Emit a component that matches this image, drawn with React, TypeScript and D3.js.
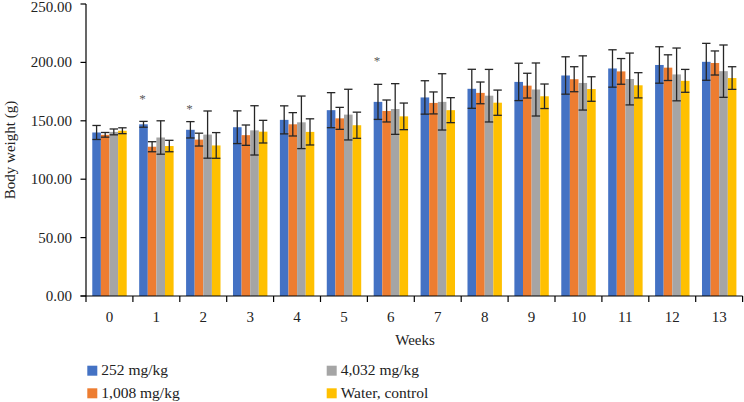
import React from "react";
import * as d3 from "d3";

const weeks = ["0", "1", "2", "3", "4", "5", "6", "7", "8", "9", "10", "11", "12", "13"];
const seriesNames = ["252 mg/kg", "1,008 mg/kg", "4,032 mg/kg", "Water, control"];
const seriesColors = ["#4472C4", "#ED7D31", "#A5A5A5", "#FFC000"];

const mean252 = [140, 147, 142.3, 144.5, 150.8, 159.1, 166.2, 170, 177.4, 183.3, 188.8, 194.8, 197.8, 200.5];
const sd252 = [6, 2.5, 7, 14, 12, 15, 15, 14.3, 16.7, 16, 16, 16, 15.6, 15.8];
const mean1008 = [138, 127.8, 133.9, 137.7, 147, 152.1, 158.4, 165.3, 173.9, 180.1, 185.6, 192.3, 195.5, 199.5];
const sd1008 = [2, 4.3, 5.5, 8.7, 10, 9.4, 9.4, 9.4, 9.3, 10.6, 10.7, 11, 11, 10.3];
const mean4032 = [140.5, 135.7, 138.2, 141.8, 148.7, 155.3, 160.1, 166.2, 171.5, 176.8, 182.4, 185.8, 189.7, 192.5];
const sd4032 = [2.5, 14.3, 20.2, 21.1, 22.5, 21.7, 21.7, 24.1, 22.5, 22.7, 23.2, 22.2, 22.6, 22.4];
const meanWater = [141.5, 128.4, 128.9, 140.7, 140.5, 146.2, 153.8, 159.1, 165.5, 171, 177.2, 180.4, 184.2, 186.6];
const sdWater = [2.5, 4.9, 11, 9.7, 11.2, 11.2, 11.4, 10.7, 10.8, 10.5, 10.5, 10.8, 9.8, 9.7];

const yTicks = [0, 50, 100, 150, 200, 250];
const starWeeks = ["1", "2", "6"];
const starValues = [171, 163, 203.5];

const means = [mean252, mean1008, mean4032, meanWater];
const sds = [sd252, sd1008, sd4032, sdWater];

const W = 744;
const H = 402;
const FONT = "'Liberation Serif', 'DejaVu Serif', serif";

export default function App() {
  const x0 = d3.scaleBand<string>().domain(weeks).range([86, 742.6]).padding(0);
  const bw = x0.bandwidth();
  const x1 = d3
    .scaleBand<string>()
    .domain(seriesNames)
    .range([bw * 0.134, bw * 0.868])
    .padding(0);
  const y = d3.scaleLinear().domain([0, 250]).range([296, 4]);
  const fmt = d3.format(".2f");

  const boundaries = weeks.map((w) => x0(w) as number).concat([x0.range()[1]]);

  return (
    <svg
      width={W}
      height={H}
      style={{ position: "absolute", left: 0, top: 0, background: "#fff" }}
      fontFamily={FONT}
    >
      {/* bars */}
      {seriesNames.map((s, si) => (
        <g key={s}>
          {weeks.map((w, wi) => (
            <rect
              key={w}
              x={(x0(w) as number) + (x1(s) as number)}
              y={y(means[si][wi])}
              width={x1.bandwidth()}
              height={y(0) - y(means[si][wi])}
              fill={seriesColors[si]}
            />
          ))}
        </g>
      ))}
      {/* error bars */}
      {seriesNames.map((s, si) => (
        <g key={"e" + s} stroke="#262626" strokeWidth={1.3} fill="none">
          {weeks.map((w, wi) => {
            const cx = (x0(w) as number) + (x1(s) as number) + x1.bandwidth() / 2;
            const top = y(means[si][wi] + sds[si][wi]);
            const bot = y(means[si][wi] - sds[si][wi]);
            const cap = 4.2;
            return (
              <g key={w}>
                <line x1={cx} x2={cx} y1={top} y2={bot} />
                <line x1={cx - cap} x2={cx + cap} y1={top} y2={top} />
                <line x1={cx - cap} x2={cx + cap} y1={bot} y2={bot} />
              </g>
            );
          })}
        </g>
      ))}
      {/* significance stars */}
      {starWeeks.map((w, i) => (
        <text
          key={"star" + w}
          x={(x0(w) as number) + (x1(seriesNames[0]) as number) + x1.bandwidth() / 2 - 1}
          y={y(starValues[i]) + 7}
          textAnchor="middle"
          fontSize={13}
          fill="#595959"
        >
          *
        </text>
      ))}
      {/* y axis */}
      <line x1={86} x2={86} y1={y(250)} y2={y(0)} stroke="#000" strokeWidth={1.2} />
      {yTicks.map((t) => (
        <g key={t}>
          <line x1={80.5} x2={86} y1={y(t)} y2={y(t)} stroke="#000" strokeWidth={1.2} />
          <text x={72} y={Math.max(y(t) + 5, 11.5)} textAnchor="end" fontSize={15} fill="#222">
            {fmt(t)}
          </text>
        </g>
      ))}
      {/* x axis */}
      <line x1={80.5} x2={x0.range()[1]} y1={y(0)} y2={y(0)} stroke="#000" strokeWidth={1.2} />
      {boundaries.map((b, i) => (
        <line key={i} x1={b} x2={b} y1={y(0)} y2={y(0) + 6} stroke="#000" strokeWidth={1.2} />
      ))}
      {weeks.map((w) => (
        <text
          key={"xl" + w}
          x={(x0(w) as number) + bw / 2}
          y={322}
          textAnchor="middle"
          fontSize={15}
          fill="#222"
        >
          {w}
        </text>
      ))}
      <text x={415} y={345} textAnchor="middle" fontSize={15} fill="#222">
        Weeks
      </text>
      <text
        transform={`translate(15, ${y(125)}) rotate(-90)`}
        textAnchor="middle"
        fontSize={15}
        fill="#222"
      >
        Body weight (g)
      </text>
      {/* legend */}
      {seriesNames.map((s, si) => {
        const col = si === 0 || si === 1 ? 0 : 1;
        const row = si === 0 || si === 2 ? 0 : 1;
        const lx = col === 0 ? 87.3 : 326.7;
        const ly = row === 0 ? 365.7 : 388.3;
        return (
          <g key={"lg" + s}>
            <rect x={lx} y={ly} width={10} height={10} fill={seriesColors[si]} />
            <text x={lx + 14} y={ly + 9.5} fontSize={15.5} fill="#222">
              {s}
            </text>
          </g>
        );
      })}
    </svg>
  );
}
